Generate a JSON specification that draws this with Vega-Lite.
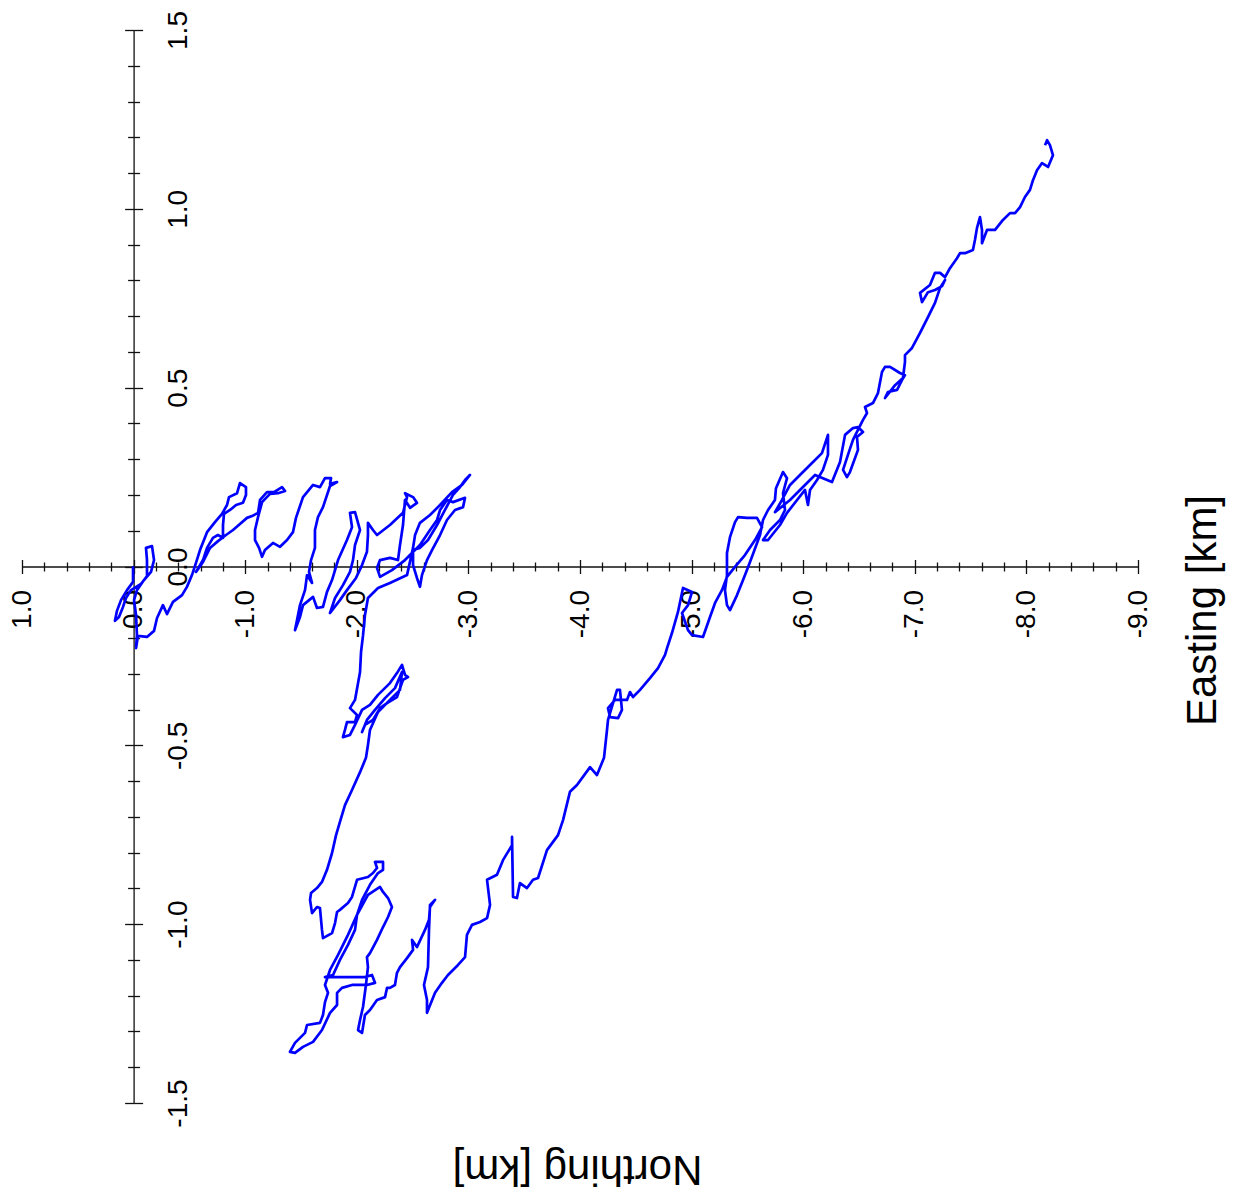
{
"$schema":"https://vega.github.io/schema/vega-lite/v6.json",
"width":1116,"height":1073,
"autosize":"none",
"padding":{"left":22,"top":30,"right":97,"bottom":99},
"config":{"view":{"stroke":null},
"axis":{"grid":false,"labelFont":"Liberation Sans","titleFont":"Liberation Sans","labelFontSize":28,"titleFontSize":42,"titleFontWeight":"normal","labelColor":"#000","titleColor":"#000","tickColor":"#111","domainColor":"#111","tickWidth":1.3,"domainWidth":1.3,"labelFlush":false,"labelOverlap":false,"labelBound":false}},
"data":{"values":[
{"i":1,"e":0.005,"n":0.001},{"i":2,"e":0.005,"n":-0.043},{"i":3,"e":0.059,"n":-0.066},{"i":4,"e":0.113,"n":-0.094},{"i":5,"e":0.149,"n":-0.124},{"i":6,"e":0.167,"n":-0.152},{"i":7,"e":0.131,"n":-0.141},{"i":8,"e":0.095,"n":-0.113},{"i":9,"e":0.068,"n":-0.088},{"i":10,"e":0.023,"n":-0.066},
{"i":11,"e":-0.066,"n":-0.049},{"i":12,"e":-0.120,"n":-0.027},{"i":13,"e":-0.120,"n":0.018},{"i":14,"e":-0.111,"n":0.052},{"i":15,"e":-0.165,"n":0.057},{"i":16,"e":-0.183,"n":0.018},{"i":17,"e":-0.156,"n":-0.015},{"i":18,"e":-0.093,"n":-0.038},{"i":19,"e":-0.030,"n":-0.066},{"i":20,"e":-0.004,"n":-0.094},
{"i":21,"e":-0.022,"n":-0.136},{"i":22,"e":-0.030,"n":-0.192},{"i":23,"e":-0.022,"n":-0.228},{"i":24,"e":-0.039,"n":-0.194},{"i":25,"e":-0.120,"n":-0.197},{"i":26,"e":-0.183,"n":-0.180},{"i":27,"e":-0.210,"n":-0.144},{"i":28,"e":-0.263,"n":-0.108},{"i":29,"e":-0.299,"n":-0.133},{"i":30,"e":-0.353,"n":-0.099},
{"i":31,"e":-0.434,"n":-0.080},{"i":32,"e":-0.478,"n":-0.057},{"i":33,"e":-0.523,"n":-0.024},{"i":34,"e":-0.559,"n":0.010},{"i":35,"e":-0.595,"n":0.046},{"i":36,"e":-0.658,"n":0.096},{"i":37,"e":-0.729,"n":0.124},{"i":38,"e":-0.792,"n":0.147},{"i":39,"e":-0.837,"n":0.172},{"i":40,"e":-0.855,"n":0.194},
{"i":41,"e":-0.927,"n":0.205},{"i":42,"e":-0.953,"n":0.233},{"i":43,"e":-1.007,"n":0.222},{"i":44,"e":-1.007,"n":0.200},{"i":45,"e":-0.980,"n":0.178},{"i":46,"e":-0.918,"n":0.172},{"i":47,"e":-0.864,"n":0.158},{"i":48,"e":-0.810,"n":0.147},{"i":49,"e":-0.801,"n":0.116},{"i":50,"e":-0.801,"n":0.080},
{"i":51,"e":-0.756,"n":0.088},{"i":52,"e":-0.711,"n":0.080},{"i":53,"e":-0.658,"n":0.052},{"i":54,"e":-0.622,"n":0.018},{"i":55,"e":-0.559,"n":-0.015},{"i":56,"e":-0.622,"n":0.013},{"i":57,"e":-0.685,"n":0.052},{"i":58,"e":-0.756,"n":0.071},{"i":59,"e":-0.828,"n":0.088},{"i":60,"e":-0.891,"n":0.102},
{"i":61,"e":-0.953,"n":0.119},{"i":62,"e":-1.016,"n":0.136},{"i":63,"e":-1.061,"n":0.141},{"i":64,"e":-1.115,"n":0.150},{"i":65,"e":-1.133,"n":0.186},{"i":66,"e":-1.195,"n":0.208},{"i":67,"e":-1.258,"n":0.208},{"i":68,"e":-1.330,"n":0.222},{"i":69,"e":-1.357,"n":0.211},{"i":70,"e":-1.294,"n":0.205},
{"i":71,"e":-1.222,"n":0.203},{"i":72,"e":-1.151,"n":0.180},{"i":73,"e":-1.115,"n":0.138},{"i":74,"e":-1.088,"n":0.102},{"i":75,"e":-1.088,"n":0.074},{"i":76,"e":-1.124,"n":0.052},{"i":77,"e":-1.151,"n":0.027},{"i":78,"e":-1.177,"n":0.046},{"i":79,"e":-1.249,"n":0.066},{"i":80,"e":-1.312,"n":0.055},
{"i":81,"e":-1.375,"n":0.074},{"i":82,"e":-1.428,"n":0.096},{"i":83,"e":-1.455,"n":0.136},{"i":84,"e":-1.518,"n":0.194},{"i":85,"e":-1.608,"n":0.228},{"i":86,"e":-1.670,"n":0.222},{"i":87,"e":-1.715,"n":0.247},{"i":88,"e":-1.769,"n":0.247},{"i":89,"e":-1.760,"n":0.231},{"i":90,"e":-1.823,"n":0.236},
{"i":91,"e":-1.760,"n":0.225},{"i":92,"e":-1.697,"n":0.166},{"i":93,"e":-1.652,"n":0.138},{"i":94,"e":-1.625,"n":0.102},{"i":95,"e":-1.625,"n":0.052},{"i":96,"e":-1.590,"n":0.018},{"i":97,"e":-1.572,"n":-0.015},{"i":98,"e":-1.599,"n":-0.046},{"i":99,"e":-1.554,"n":-0.024},{"i":100,"e":-1.536,"n":-0.066},
{"i":101,"e":-1.491,"n":-0.108},{"i":102,"e":-1.464,"n":-0.150},{"i":103,"e":-1.446,"n":-0.178},{"i":104,"e":-1.491,"n":-0.141},{"i":105,"e":-1.518,"n":-0.108},{"i":106,"e":-1.608,"n":-0.085},{"i":107,"e":-1.643,"n":-0.116},{"i":108,"e":-1.697,"n":-0.113},{"i":109,"e":-1.733,"n":-0.071},{"i":110,"e":-1.778,"n":-0.038},
{"i":111,"e":-1.832,"n":0.018},{"i":112,"e":-1.912,"n":0.074},{"i":113,"e":-1.957,"n":0.110},{"i":114,"e":-1.939,"n":0.150},{"i":115,"e":-1.984,"n":0.152},{"i":116,"e":-2.029,"n":0.102},{"i":117,"e":-1.984,"n":0.060},{"i":118,"e":-1.966,"n":0.018},{"i":119,"e":-1.939,"n":-0.015},{"i":120,"e":-1.876,"n":-0.052},
{"i":121,"e":-1.805,"n":-0.088},{"i":122,"e":-1.760,"n":-0.130},{"i":123,"e":-1.849,"n":-0.094},{"i":124,"e":-1.912,"n":-0.066},{"i":125,"e":-1.993,"n":-0.032},{"i":126,"e":-2.047,"n":0.004},{"i":127,"e":-2.091,"n":0.041},{"i":128,"e":-2.100,"n":0.088},{"i":129,"e":-2.100,"n":0.122},{"i":130,"e":-2.145,"n":0.102},
{"i":131,"e":-2.181,"n":0.088},{"i":132,"e":-2.297,"n":0.116},{"i":133,"e":-2.414,"n":0.150},{"i":134,"e":-2.450,"n":0.194},{"i":135,"e":-2.432,"n":0.205},{"i":136,"e":-2.504,"n":0.194},{"i":137,"e":-2.539,"n":0.178},{"i":138,"e":-2.477,"n":0.164},{"i":139,"e":-2.432,"n":0.186},{"i":140,"e":-2.414,"n":0.116},
{"i":141,"e":-2.387,"n":0.060},{"i":142,"e":-2.369,"n":0.018},{"i":143,"e":-2.297,"n":0.024},{"i":144,"e":-2.208,"n":0.018},{"i":145,"e":-2.181,"n":-0.004},{"i":146,"e":-2.208,"n":-0.029},{"i":147,"e":-2.315,"n":-0.010},{"i":148,"e":-2.432,"n":0.018},{"i":149,"e":-2.566,"n":0.060},{"i":150,"e":-2.656,"n":0.102},
{"i":151,"e":-2.719,"n":0.130},{"i":152,"e":-2.746,"n":0.158},{"i":153,"e":-2.808,"n":0.186},{"i":154,"e":-2.862,"n":0.180},{"i":155,"e":-2.970,"n":0.192},{"i":156,"e":-2.952,"n":0.166},{"i":157,"e":-2.880,"n":0.158},{"i":158,"e":-2.808,"n":0.130},{"i":159,"e":-2.746,"n":0.088},{"i":160,"e":-2.674,"n":0.046},
{"i":161,"e":-2.629,"n":0.018},{"i":162,"e":-2.584,"n":-0.024},{"i":163,"e":-2.566,"n":-0.057},{"i":164,"e":-2.539,"n":-0.032},{"i":165,"e":-2.504,"n":0.004},{"i":166,"e":-2.504,"n":0.046},{"i":167,"e":-2.566,"n":0.052},{"i":168,"e":-2.638,"n":0.074},{"i":169,"e":-2.719,"n":0.116},{"i":170,"e":-2.790,"n":0.158},
{"i":171,"e":-2.862,"n":0.200},{"i":172,"e":-2.925,"n":0.222},{"i":173,"e":-2.970,"n":0.242},{"i":174,"e":-3.014,"n":0.256},{"i":175,"e":-2.943,"n":0.228},{"i":176,"e":-2.853,"n":0.208},{"i":177,"e":-2.746,"n":0.172},{"i":178,"e":-2.656,"n":0.144},{"i":179,"e":-2.566,"n":0.122},{"i":180,"e":-2.522,"n":0.088},
{"i":181,"e":-2.504,"n":0.052},{"i":182,"e":-2.450,"n":-0.024},{"i":183,"e":-2.297,"n":-0.046},{"i":184,"e":-2.190,"n":-0.060},{"i":185,"e":-2.100,"n":-0.088},{"i":186,"e":-2.073,"n":-0.136},{"i":187,"e":-2.056,"n":-0.192},{"i":188,"e":-2.038,"n":-0.239},{"i":189,"e":-2.029,"n":-0.295},{"i":190,"e":-1.984,"n":-0.373},
{"i":191,"e":-1.939,"n":-0.396},{"i":192,"e":-2.002,"n":-0.415},{"i":193,"e":-1.984,"n":-0.435},{"i":194,"e":-1.912,"n":-0.435},{"i":195,"e":-1.894,"n":-0.457},{"i":196,"e":-1.876,"n":-0.477},{"i":197,"e":-1.939,"n":-0.471},{"i":198,"e":-1.984,"n":-0.443},{"i":199,"e":-2.047,"n":-0.401},{"i":200,"e":-2.118,"n":-0.387},
{"i":201,"e":-2.190,"n":-0.359},{"i":202,"e":-2.297,"n":-0.326},{"i":203,"e":-2.360,"n":-0.298},{"i":204,"e":-2.405,"n":-0.275},{"i":205,"e":-2.432,"n":-0.303},{"i":206,"e":-2.459,"n":-0.309},{"i":207,"e":-2.414,"n":-0.317},{"i":208,"e":-2.360,"n":-0.365},{"i":209,"e":-2.271,"n":-0.382},{"i":210,"e":-2.208,"n":-0.396},
{"i":211,"e":-2.145,"n":-0.429},{"i":212,"e":-2.073,"n":-0.443},{"i":213,"e":-2.047,"n":-0.463},{"i":214,"e":-2.091,"n":-0.429},{"i":215,"e":-2.163,"n":-0.401},{"i":216,"e":-2.253,"n":-0.368},{"i":217,"e":-2.342,"n":-0.340},{"i":218,"e":-2.405,"n":-0.295},{"i":219,"e":-2.387,"n":-0.345},{"i":220,"e":-2.297,"n":-0.373},
{"i":221,"e":-2.190,"n":-0.407},{"i":222,"e":-2.118,"n":-0.457},{"i":223,"e":-2.100,"n":-0.499},{"i":224,"e":-2.082,"n":-0.535},{"i":225,"e":-2.029,"n":-0.575},{"i":226,"e":-1.957,"n":-0.625},{"i":227,"e":-1.894,"n":-0.667},{"i":228,"e":-1.849,"n":-0.714},{"i":229,"e":-1.814,"n":-0.751},{"i":230,"e":-1.778,"n":-0.801},
{"i":231,"e":-1.733,"n":-0.848},{"i":232,"e":-1.688,"n":-0.882},{"i":233,"e":-1.643,"n":-0.899},{"i":234,"e":-1.590,"n":-0.913},{"i":235,"e":-1.581,"n":-0.932},{"i":236,"e":-1.599,"n":-0.969},{"i":237,"e":-1.643,"n":-0.952},{"i":238,"e":-1.670,"n":-0.955},{"i":239,"e":-1.688,"n":-1.016},{"i":240,"e":-1.697,"n":-1.039},
{"i":241,"e":-1.778,"n":-1.025},{"i":242,"e":-1.805,"n":-0.997},{"i":243,"e":-1.823,"n":-0.966},{"i":244,"e":-1.849,"n":-0.960},{"i":245,"e":-1.921,"n":-0.941},{"i":246,"e":-1.957,"n":-0.924},{"i":247,"e":-2.002,"n":-0.876},{"i":248,"e":-2.100,"n":-0.868},{"i":249,"e":-2.145,"n":-0.857},{"i":250,"e":-2.181,"n":-0.843},
{"i":251,"e":-2.163,"n":-0.826},{"i":252,"e":-2.235,"n":-0.826},{"i":253,"e":-2.235,"n":-0.848},{"i":254,"e":-2.190,"n":-0.857},{"i":255,"e":-2.118,"n":-0.890},{"i":256,"e":-2.047,"n":-0.932},{"i":257,"e":-2.002,"n":-0.974},{"i":258,"e":-1.984,"n":-1.016},{"i":259,"e":-1.921,"n":-1.058},{"i":260,"e":-1.849,"n":-1.100},
{"i":261,"e":-1.787,"n":-1.142},{"i":262,"e":-1.715,"n":-1.148},{"i":263,"e":-1.894,"n":-1.148},{"i":264,"e":-2.073,"n":-1.148},{"i":265,"e":-2.136,"n":-1.142},{"i":266,"e":-2.163,"n":-1.164},{"i":267,"e":-2.091,"n":-1.170},{"i":268,"e":-1.957,"n":-1.170},{"i":269,"e":-1.867,"n":-1.178},{"i":270,"e":-1.823,"n":-1.192},
{"i":271,"e":-1.823,"n":-1.226},{"i":272,"e":-1.760,"n":-1.248},{"i":273,"e":-1.688,"n":-1.296},{"i":274,"e":-1.608,"n":-1.329},{"i":275,"e":-1.518,"n":-1.343},{"i":276,"e":-1.446,"n":-1.360},{"i":277,"e":-1.401,"n":-1.357},{"i":278,"e":-1.446,"n":-1.332},{"i":279,"e":-1.536,"n":-1.304},{"i":280,"e":-1.554,"n":-1.282},
{"i":281,"e":-1.670,"n":-1.276},{"i":282,"e":-1.697,"n":-1.254},{"i":283,"e":-1.715,"n":-1.218},{"i":284,"e":-1.742,"n":-1.192},{"i":285,"e":-1.715,"n":-1.170},{"i":286,"e":-1.760,"n":-1.128},{"i":287,"e":-1.832,"n":-1.086},{"i":288,"e":-1.921,"n":-1.030},{"i":289,"e":-2.002,"n":-0.974},{"i":290,"e":-2.100,"n":-0.918},
{"i":291,"e":-2.208,"n":-0.896},{"i":292,"e":-2.235,"n":-0.910},{"i":293,"e":-2.280,"n":-0.927},{"i":294,"e":-2.315,"n":-0.952},{"i":295,"e":-2.280,"n":-0.980},{"i":296,"e":-2.235,"n":-1.008},{"i":297,"e":-2.181,"n":-1.044},{"i":298,"e":-2.118,"n":-1.081},{"i":299,"e":-2.091,"n":-1.092},{"i":300,"e":-2.100,"n":-1.120},
{"i":301,"e":-2.082,"n":-1.170},{"i":302,"e":-2.056,"n":-1.231},{"i":303,"e":-2.029,"n":-1.268},{"i":304,"e":-2.011,"n":-1.296},{"i":305,"e":-2.047,"n":-1.304},{"i":306,"e":-2.073,"n":-1.254},{"i":307,"e":-2.118,"n":-1.240},{"i":308,"e":-2.181,"n":-1.212},{"i":309,"e":-2.253,"n":-1.204},{"i":310,"e":-2.271,"n":-1.178},
{"i":311,"e":-2.297,"n":-1.178},{"i":312,"e":-2.342,"n":-1.170},{"i":313,"e":-2.360,"n":-1.136},{"i":314,"e":-2.387,"n":-1.120},{"i":315,"e":-2.450,"n":-1.095},{"i":316,"e":-2.504,"n":-1.072},{"i":317,"e":-2.495,"n":-1.044},{"i":318,"e":-2.539,"n":-1.064},{"i":319,"e":-2.611,"n":-1.016},{"i":320,"e":-2.647,"n":-0.988},
{"i":321,"e":-2.656,"n":-0.952},{"i":322,"e":-2.701,"n":-0.932},{"i":323,"e":-2.656,"n":-0.946},{"i":324,"e":-2.647,"n":-1.016},{"i":325,"e":-2.638,"n":-1.120},{"i":326,"e":-2.602,"n":-1.170},{"i":327,"e":-2.629,"n":-1.212},{"i":328,"e":-2.629,"n":-1.248},{"i":329,"e":-2.701,"n":-1.192},{"i":330,"e":-2.763,"n":-1.164},
{"i":331,"e":-2.817,"n":-1.142},{"i":332,"e":-2.907,"n":-1.114},{"i":333,"e":-2.970,"n":-1.092},{"i":334,"e":-2.987,"n":-1.030},{"i":335,"e":-3.032,"n":-1.002},{"i":336,"e":-3.104,"n":-0.994},{"i":337,"e":-3.167,"n":-0.983},{"i":338,"e":-3.194,"n":-0.946},{"i":339,"e":-3.167,"n":-0.876},{"i":340,"e":-3.256,"n":-0.862},
{"i":341,"e":-3.310,"n":-0.821},{"i":342,"e":-3.391,"n":-0.779},{"i":343,"e":-3.391,"n":-0.756},{"i":344,"e":-3.400,"n":-0.924},{"i":345,"e":-3.435,"n":-0.927},{"i":346,"e":-3.462,"n":-0.885},{"i":347,"e":-3.525,"n":-0.899},{"i":348,"e":-3.579,"n":-0.876},{"i":349,"e":-3.624,"n":-0.871},{"i":350,"e":-3.704,"n":-0.793},
{"i":351,"e":-3.803,"n":-0.751},{"i":352,"e":-3.848,"n":-0.709},{"i":353,"e":-3.910,"n":-0.630},{"i":354,"e":-3.973,"n":-0.611},{"i":355,"e":-4.090,"n":-0.561},{"i":356,"e":-4.152,"n":-0.583},{"i":357,"e":-4.215,"n":-0.535},{"i":358,"e":-4.242,"n":-0.457},{"i":359,"e":-4.251,"n":-0.429},{"i":360,"e":-4.296,"n":-0.382},
{"i":361,"e":-4.332,"n":-0.345},{"i":362,"e":-4.358,"n":-0.345},{"i":363,"e":-4.376,"n":-0.401},{"i":364,"e":-4.341,"n":-0.424},{"i":365,"e":-4.269,"n":-0.421},{"i":366,"e":-4.251,"n":-0.396},{"i":367,"e":-4.314,"n":-0.373},{"i":368,"e":-4.421,"n":-0.373},{"i":369,"e":-4.448,"n":-0.351},{"i":370,"e":-4.475,"n":-0.365},
{"i":371,"e":-4.538,"n":-0.345},{"i":372,"e":-4.627,"n":-0.312},{"i":373,"e":-4.699,"n":-0.284},{"i":374,"e":-4.762,"n":-0.247},{"i":375,"e":-4.780,"n":-0.228},{"i":376,"e":-4.824,"n":-0.186},{"i":377,"e":-4.878,"n":-0.127},{"i":378,"e":-4.923,"n":-0.060},{"i":379,"e":-5.004,"n":-0.071},{"i":380,"e":-4.968,"n":-0.108},
{"i":381,"e":-4.914,"n":-0.130},{"i":382,"e":-4.968,"n":-0.178},{"i":383,"e":-5.004,"n":-0.192},{"i":384,"e":-5.102,"n":-0.197},{"i":385,"e":-5.165,"n":-0.141},{"i":386,"e":-5.210,"n":-0.102},{"i":387,"e":-5.272,"n":-0.066},{"i":388,"e":-5.317,"n":-0.029},{"i":389,"e":-5.389,"n":-0.001},{"i":390,"e":-5.478,"n":0.032},
{"i":391,"e":-5.568,"n":0.074},{"i":392,"e":-5.631,"n":0.110},{"i":393,"e":-5.586,"n":0.136},{"i":394,"e":-5.496,"n":0.136},{"i":395,"e":-5.416,"n":0.138},{"i":396,"e":-5.389,"n":0.124},{"i":397,"e":-5.344,"n":0.082},{"i":398,"e":-5.317,"n":0.038},{"i":399,"e":-5.317,"n":-0.024},{"i":400,"e":-5.299,"n":-0.066},
{"i":401,"e":-5.317,"n":-0.108},{"i":402,"e":-5.344,"n":-0.122},{"i":403,"e":-5.407,"n":-0.080},{"i":404,"e":-5.461,"n":-0.038},{"i":405,"e":-5.496,"n":-0.010},{"i":406,"e":-5.541,"n":0.027},{"i":407,"e":-5.613,"n":0.088},{"i":408,"e":-5.640,"n":0.130},{"i":409,"e":-5.685,"n":0.158},{"i":410,"e":-5.747,"n":0.186},
{"i":411,"e":-5.756,"n":0.219},{"i":412,"e":-5.819,"n":0.264},{"i":413,"e":-5.855,"n":0.247},{"i":414,"e":-5.819,"n":0.205},{"i":415,"e":-5.837,"n":0.158},{"i":416,"e":-5.792,"n":0.130},{"i":417,"e":-5.703,"n":0.102},{"i":418,"e":-5.640,"n":0.074},{"i":419,"e":-5.685,"n":0.074},{"i":420,"e":-5.792,"n":0.116},
{"i":421,"e":-5.855,"n":0.150},{"i":422,"e":-5.945,"n":0.186},{"i":423,"e":-6.016,"n":0.214},{"i":424,"e":-6.043,"n":0.172},{"i":425,"e":-6.061,"n":0.214},{"i":426,"e":-6.124,"n":0.242},{"i":427,"e":-6.177,"n":0.270},{"i":428,"e":-6.222,"n":0.312},{"i":429,"e":-6.222,"n":0.368},{"i":430,"e":-6.168,"n":0.317},
{"i":431,"e":-6.061,"n":0.284},{"i":432,"e":-5.971,"n":0.256},{"i":433,"e":-5.882,"n":0.228},{"i":434,"e":-5.810,"n":0.186},{"i":435,"e":-5.747,"n":0.152},{"i":436,"e":-5.882,"n":0.186},{"i":437,"e":-6.016,"n":0.228},{"i":438,"e":-6.106,"n":0.256},{"i":439,"e":-6.258,"n":0.236},{"i":440,"e":-6.330,"n":0.292},
{"i":441,"e":-6.375,"n":0.368},{"i":442,"e":-6.446,"n":0.387},{"i":443,"e":-6.491,"n":0.390},{"i":444,"e":-6.536,"n":0.376},{"i":445,"e":-6.482,"n":0.362},{"i":446,"e":-6.491,"n":0.326},{"i":447,"e":-6.419,"n":0.264},{"i":448,"e":-6.392,"n":0.250},{"i":449,"e":-6.357,"n":0.270},{"i":450,"e":-6.401,"n":0.312},
{"i":451,"e":-6.446,"n":0.354},{"i":452,"e":-6.491,"n":0.382},{"i":453,"e":-6.536,"n":0.410},{"i":454,"e":-6.572,"n":0.429},{"i":455,"e":-6.554,"n":0.446},{"i":456,"e":-6.625,"n":0.457},{"i":457,"e":-6.670,"n":0.485},{"i":458,"e":-6.706,"n":0.544},{"i":459,"e":-6.733,"n":0.558},{"i":460,"e":-6.778,"n":0.558},
{"i":461,"e":-6.867,"n":0.541},{"i":462,"e":-6.912,"n":0.535},{"i":463,"e":-6.885,"n":0.521},{"i":464,"e":-6.841,"n":0.494},{"i":465,"e":-6.760,"n":0.488},{"i":466,"e":-6.733,"n":0.471},{"i":467,"e":-6.823,"n":0.507},{"i":468,"e":-6.894,"n":0.527},{"i":469,"e":-6.912,"n":0.572},{"i":470,"e":-6.912,"n":0.591},
{"i":471,"e":-6.975,"n":0.611},{"i":472,"e":-7.047,"n":0.653},{"i":473,"e":-7.118,"n":0.697},{"i":474,"e":-7.181,"n":0.737},{"i":475,"e":-7.226,"n":0.779},{"i":476,"e":-7.271,"n":0.801},{"i":477,"e":-7.244,"n":0.784},{"i":478,"e":-7.181,"n":0.773},{"i":479,"e":-7.118,"n":0.767},{"i":480,"e":-7.065,"n":0.739},
{"i":481,"e":-7.047,"n":0.765},{"i":482,"e":-7.136,"n":0.787},{"i":483,"e":-7.181,"n":0.821},{"i":484,"e":-7.226,"n":0.821},{"i":485,"e":-7.271,"n":0.809},{"i":486,"e":-7.315,"n":0.834},{"i":487,"e":-7.378,"n":0.862},{"i":488,"e":-7.405,"n":0.876},{"i":489,"e":-7.450,"n":0.876},{"i":490,"e":-7.521,"n":0.885},
{"i":491,"e":-7.539,"n":0.913},{"i":492,"e":-7.557,"n":0.946},{"i":493,"e":-7.584,"n":0.977},{"i":494,"e":-7.602,"n":0.941},{"i":495,"e":-7.602,"n":0.904},{"i":496,"e":-7.647,"n":0.941},{"i":497,"e":-7.719,"n":0.941},{"i":498,"e":-7.790,"n":0.969},{"i":499,"e":-7.853,"n":0.988},{"i":500,"e":-7.898,"n":0.988},
{"i":501,"e":-7.943,"n":1.005},{"i":502,"e":-7.987,"n":1.033},{"i":503,"e":-8.032,"n":1.053},{"i":504,"e":-8.059,"n":1.080},{"i":505,"e":-8.095,"n":1.108},{"i":506,"e":-8.140,"n":1.128},{"i":507,"e":-8.194,"n":1.117},{"i":508,"e":-8.238,"n":1.150},{"i":509,"e":-8.211,"n":1.178},{"i":510,"e":-8.185,"n":1.192},
{"i":511,"e":-8.167,"n":1.178}
]},
"resolve":{"axis":{"x":"independent","y":"independent"}},
"layer":[
{"mark":{"type":"line","strokeOpacity":0},
 "encoding":{
  "x":{"field":"e","type":"quantitative","scale":{"domain":[1,-9],"nice":false,"zero":false},
   "axis":{"orient":"top","offset":-536.5,"values":[1,0,-1,-2,-3,-4,-5,-6,-7,-8,-9],"labels":false,"domain":false,"tickSize":7,"title":null}},
  "y":{"field":"n","type":"quantitative","scale":{"domain":[-1.5,1.5],"nice":false,"zero":false},
   "axis":{"orient":"left","offset":-111.6,"values":[-1.5,-1,-0.5,0,0.5,1,1.5],"labels":false,"domain":false,"tickSize":9,"title":null}},
  "order":{"field":"i","type":"quantitative"}}},
{"mark":{"type":"line","strokeOpacity":0},
 "encoding":{
  "x":{"field":"e","type":"quantitative","scale":{"domain":[1,-9],"nice":false,"zero":false},
   "axis":{"orient":"bottom","offset":-536.5,"values":[0.8,0.6,0.4,0.2,-0.2,-0.4,-0.6,-0.8,-1.2,-1.4,-1.6,-1.8,-2.2,-2.4,-2.6,-2.8,-3.2,-3.4,-3.6,-3.8,-4.2,-4.4,-4.6,-4.8,-5.2,-5.4,-5.6,-5.8,-6.2,-6.4,-6.6,-6.8,-7.2,-7.4,-7.6,-7.8,-8.2,-8.4,-8.6,-8.8],"labels":false,"domain":false,"tickSize":4.5,"title":null}},
  "y":{"field":"n","type":"quantitative","scale":{"domain":[-1.5,1.5],"nice":false,"zero":false},
   "axis":{"orient":"right","offset":-1004.4,"values":[1.4,1.3,1.2,1.1,0.9,0.8,0.7,0.6,0.4,0.3,0.2,0.1,-0.1,-0.2,-0.3,-0.4,-0.6,-0.7,-0.8,-0.9,-1.1,-1.2,-1.3,-1.4],"labels":false,"domain":false,"tickSize":6,"title":null}},
  "order":{"field":"i","type":"quantitative"}}},
{"mark":{"type":"line","strokeOpacity":0},
 "encoding":{
  "x":{"field":"e","type":"quantitative","scale":{"domain":[1,-9],"nice":false,"zero":false},
   "axis":{"orient":"top","offset":-536.5,"values":[0.8,0.6,0.4,0.2,-0.2,-0.4,-0.6,-0.8,-1.2,-1.4,-1.6,-1.8,-2.2,-2.4,-2.6,-2.8,-3.2,-3.4,-3.6,-3.8,-4.2,-4.4,-4.6,-4.8,-5.2,-5.4,-5.6,-5.8,-6.2,-6.4,-6.6,-6.8,-7.2,-7.4,-7.6,-7.8,-8.2,-8.4,-8.6,-8.8],"labels":false,"domain":false,"tickSize":4.5,"title":null}},
  "y":{"field":"n","type":"quantitative","scale":{"domain":[-1.5,1.5],"nice":false,"zero":false},
   "axis":{"orient":"left","offset":-111.6,"values":[1.4,1.3,1.2,1.1,0.9,0.8,0.7,0.6,0.4,0.3,0.2,0.1,-0.1,-0.2,-0.3,-0.4,-0.6,-0.7,-0.8,-0.9,-1.1,-1.2,-1.3,-1.4],"labels":false,"domain":false,"tickSize":6,"title":null}},
  "order":{"field":"i","type":"quantitative"}}},
{"mark":{"type":"line","stroke":"#0000ff","strokeWidth":2.7,"strokeJoin":"round"},
 "encoding":{
  "x":{"field":"e","type":"quantitative","scale":{"domain":[1,-9],"nice":false,"zero":false},
   "axis":{"orient":"bottom","offset":-536.5,"values":[1,0,-1,-2,-3,-4,-5,-6,-7,-8,-9],"tickSize":7,"labelAngle":270,"labelAlign":"right","labelBaseline":"middle","labelPadding":16,
    "labelExpr":"replace(format(datum.value,'.1f'),'\u2212','-')",
    "title":"Easting [km]","titleAngle":270,"titleX":1193,"titleY":43.5,"titleAlign":"center","titleBaseline":"alphabetic"}},
  "y":{"field":"n","type":"quantitative","scale":{"domain":[-1.5,1.5],"nice":false,"zero":false},
   "axis":{"orient":"right","offset":-1004.4,"values":[-1.5,-1,-0.5,0,0.5,1,1.5],"tickSize":9,"labelAngle":270,"labelAlign":"center","labelBaseline":"top","labelPadding":22,
    "labelExpr":"replace(format(datum.value,'.1f'),'\u2212','-')",
    "title":"Northing [km]","titleAngle":180,"titleX":443.4,"titleY":1125,"titleAlign":"center","titleBaseline":"alphabetic"}},
  "order":{"field":"i","type":"quantitative"}}}
]
}
